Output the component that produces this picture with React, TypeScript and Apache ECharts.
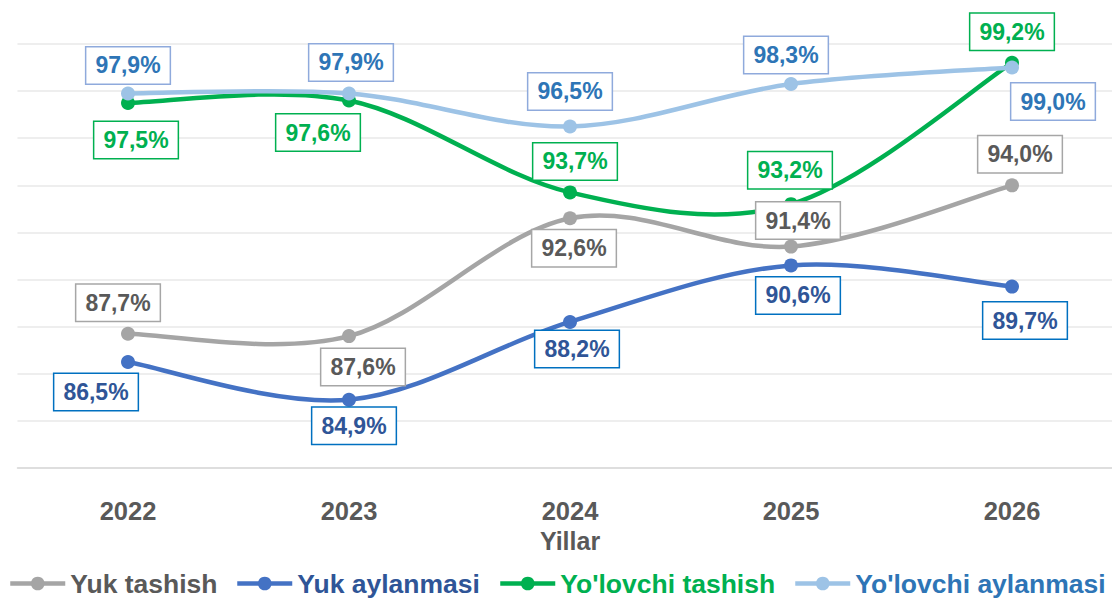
import React, { useEffect, useRef } from "react";
import * as echarts from "echarts";

const years = ["2022", "2023", "2024", "2025", "2026"];
const seriesNames = ["Yuk tashish", "Yuk aylanmasi", "Yo'lovchi tashish", "Yo'lovchi aylanmasi"];
const yukTashish = [87.7, 87.6, 92.6, 91.4, 94.0];
const yukAylanmasi = [86.5, 84.9, 88.2, 90.6, 89.7];
const yolovchiTashish = [97.5, 97.6, 93.7, 93.2, 99.2];
const yolovchiAylanmasi = [97.9, 97.9, 96.5, 98.3, 99.0];

// label offsets (layout only) relative to each point
const offYukTashish = [[-10, -31], [14, 31], [4, 30], [7, -26], [8, -31]];
const offYukAylanmasi = [[-32, 30], [5, 26], [7, 27], [7, 30], [13, 34]];
const offYolTashish = [[8, 37], [-31, 32], [5, -31], [-1, -34], [0, -31]];
const offYolAylanmasi = [[0, -28], [2, -31], [0, -35], [-5, -29], [41, 34]];

// legend item left positions (layout only)
const legendLefts = [8, 235, 498, 793];

const FONT = "'Liberation Sans', Arial, sans-serif";
const LINE_W = 4.5;

const fmt = (v: number) => v.toFixed(1).replace(".", ",") + "%";

// Catmull-Rom style smoothing (Excel-like), via cubic Beziers
function smoothPath(pts: number[][]) {
  const n = pts.length;
  let d = `M${pts[0][0]},${pts[0][1]}`;
  for (let i = 0; i < n - 1; i++) {
    const p0 = pts[Math.max(0, i - 1)];
    const p1 = pts[i];
    const p2 = pts[i + 1];
    const p3 = pts[Math.min(n - 1, i + 2)];
    const c1x = p1[0] + (p2[0] - p0[0]) / 6;
    const c1y = p1[1] + (p2[1] - p0[1]) / 6;
    const c2x = p2[0] - (p3[0] - p1[0]) / 6;
    const c2y = p2[1] - (p3[1] - p1[1]) / 6;
    d += ` C${c1x},${c1y} ${c2x},${c2y} ${p2[0]},${p2[1]}`;
  }
  return d;
}

function makeCurve(name: string, values: number[], color: string) {
  return {
    name: name + " (curve)",
    type: "custom",
    z: 1,
    silent: true,
    clip: false,
    data: [[0, values[0]]],
    encode: { x: 0, y: 1 },
    renderItem: (_params: any, api: any) => {
      const pts = values.map((v, i) => api.coord([i, v]));
      return {
        type: "path",
        shape: { pathData: smoothPath(pts) },
        style: { stroke: color, lineWidth: LINE_W, fill: "none", lineCap: "round" },
      };
    },
  };
}

function makeSeries(
  name: string,
  values: number[],
  offsets: number[][],
  lineColor: string,
  textColor: string,
  borderColor: string
) {
  return {
    name,
    type: "line",
    z: 3,
    symbol: "circle",
    symbolSize: 14,
    data: values.map((v, i) => ({ value: v, label: { offset: offsets[i] } })),
    itemStyle: { color: lineColor },
    lineStyle: { color: lineColor, width: 0, opacity: 0 },
    label: {
      show: true,
      position: "inside",
      formatter: (p: any) => fmt(p.value),
      color: textColor,
      fontFamily: FONT,
      fontWeight: "bold",
      fontSize: 23,
      lineHeight: 23,
      backgroundColor: "#ffffff",
      borderColor,
      borderWidth: 1.5,
      padding: [6.5, 9],
    },
  };
}

export default function App() {
  const ref = useRef<HTMLDivElement>(null);
  useEffect(() => {
    if (!ref.current) return;
    const chart = echarts.init(ref.current, null, { renderer: "svg" });
    const lineColors = ["#A5A5A5", "#4472C4", "#00B050", "#9DC3E6"];
    const legendColors = ["#595959", "#2F5597", "#00B050", "#2E75B6"];
    chart.setOption({
      animation: false,
      backgroundColor: "#ffffff",
      textStyle: { fontFamily: FONT },
      grid: {
        left: 17.5,
        top: 44,
        width: 1105,
        height: 424,
        containLabel: false,
        outerBoundsMode: "none",
      },
      xAxis: {
        type: "category",
        data: years,
        boundaryGap: true,
        axisTick: { show: false },
        axisLine: { lineStyle: { color: "#D9D9D9", width: 1.5 } },
        axisLabel: {
          color: "#595959",
          fontFamily: FONT,
          fontWeight: "bold",
          fontSize: 25.5,
          margin: 30,
        },
        name: "Yillar",
        nameLocation: "middle",
        nameGap: 60,
        nameTextStyle: {
          color: "#595959",
          fontFamily: FONT,
          fontWeight: "bold",
          fontSize: 25,
        },
      },
      yAxis: {
        type: "value",
        min: 82,
        max: 100,
        interval: 2,
        axisLabel: { show: false },
        axisLine: { show: false },
        axisTick: { show: false },
        splitLine: { lineStyle: { color: "#E8E8E8", width: 1.5 } },
      },
      legend: seriesNames.map((n, i) => ({
        left: legendLefts[i],
        top: 570,
        padding: 0,
        itemWidth: 55,
        itemHeight: 17,
        data: [
          {
            name: n,
            lineStyle: { color: lineColors[i], width: LINE_W, opacity: 1 },
            itemStyle: { color: lineColors[i] },
            textStyle: {
              color: legendColors[i],
              fontFamily: FONT,
              fontWeight: "bold",
              fontSize: 26.5,
            },
          },
        ],
      })),
      series: [
        makeCurve(seriesNames[0], yukTashish, lineColors[0]),
        makeCurve(seriesNames[1], yukAylanmasi, lineColors[1]),
        makeCurve(seriesNames[2], yolovchiTashish, lineColors[2]),
        makeCurve(seriesNames[3], yolovchiAylanmasi, lineColors[3]),
        makeSeries(seriesNames[0], yukTashish, offYukTashish, lineColors[0], "#595959", "#A6A6A6"),
        makeSeries(seriesNames[1], yukAylanmasi, offYukAylanmasi, lineColors[1], "#2F5597", "#0070C0"),
        makeSeries(seriesNames[2], yolovchiTashish, offYolTashish, lineColors[2], "#00B050", "#00B050"),
        makeSeries(seriesNames[3], yolovchiAylanmasi, offYolAylanmasi, lineColors[3], "#2E75B6", "#8FAADC"),
      ],
    });
    return () => chart.dispose();
  }, []);
  return (
    <div
      ref={ref}
      style={{ position: "absolute", left: 0, top: 0, width: 1112, height: 599 }}
    />
  );
}
